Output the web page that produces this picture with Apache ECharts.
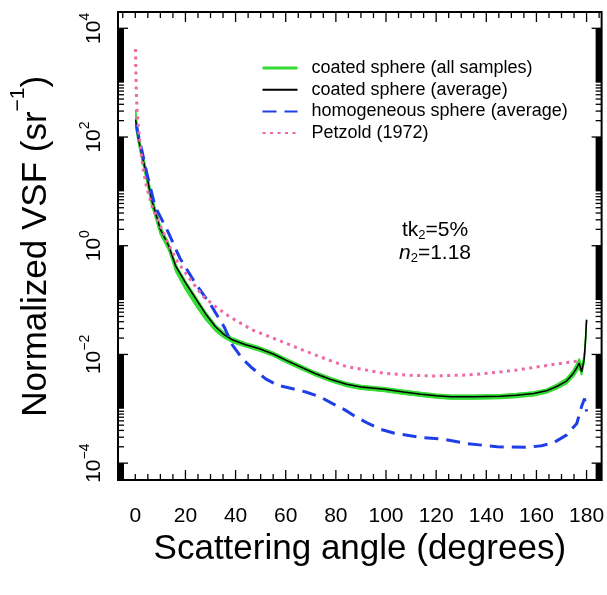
<!DOCTYPE html>
<html><head><meta charset="utf-8">
<script src="https://cdn.jsdelivr.net/npm/echarts@6/dist/echarts.min.js"></script>
<style>html,body{margin:0;padding:0;background:#fff}#c{width:607px;height:595px}</style>
</head><body><div id="c"></div>
<script>
const FONT = '"Liberation Sans", Arial, Helvetica, sans-serif';

// ---- data (scattering angle in degrees, normalized VSF in sr^-1) ----
const coatedAngles = [0.1, 0.4, 1.1, 2, 4.5, 6.5, 10, 13.3, 16.2, 20, 24.5, 28, 32, 35, 38.7, 44, 49.3, 55, 59.8, 65, 71.7, 78, 84.3, 90, 99.4, 107, 114, 120, 125.9, 135, 145.7, 152, 158.9, 164, 168.1, 172, 174.7, 176, 177.1, 178, 179, 179.5, 180];
const coatedAverage = [209, 170, 102, 63.1, 20.0, 7.08, 2.00, 1.00, 0.417, 0.209, 0.100, 0.0562, 0.0324, 0.0240, 0.0186, 0.0151, 0.0129, 0.0102, 0.00794, 0.00617, 0.00447, 0.00347, 0.00282, 0.00251, 0.00229, 0.00204, 0.00186, 0.00174, 0.00166, 0.00166, 0.00170, 0.00178, 0.00191, 0.00214, 0.00257, 0.00324, 0.00447, 0.00562, 0.00692, 0.00479, 0.00794, 0.0158, 0.0433];
const coatedSamplesHigh = [316, 224, 126, 75.9, 24.0, 8.32, 2.29, 1.10, 0.447, 0.224, 0.107, 0.0603, 0.0347, 0.0263, 0.0200, 0.0162, 0.0138, 0.0110, 0.00851, 0.00661, 0.00479, 0.00372, 0.00302, 0.00269, 0.00245, 0.00219, 0.00200, 0.00186, 0.00178, 0.00178, 0.00182, 0.00191, 0.00204, 0.00229, 0.00282, 0.00363, 0.00513, 0.00661, 0.00832, 0.00603, 0.00912, 0.0166, 0.0437];
const coatedSamplesLow = [158, 132, 83.2, 52.5, 15.8, 5.62, 1.62, 0.832, 0.331, 0.158, 0.0741, 0.0437, 0.0269, 0.0209, 0.0166, 0.0138, 0.0117, 0.00933, 0.00724, 0.00562, 0.00407, 0.00316, 0.00257, 0.00229, 0.00209, 0.00186, 0.00170, 0.00158, 0.00151, 0.00151, 0.00155, 0.00162, 0.00174, 0.00195, 0.00234, 0.00288, 0.00389, 0.00479, 0.00575, 0.00417, 0.00692, 0.0145, 0.0427];

const homogAngles = [0.4, 1, 2.4, 4.5, 7.9, 13, 17.8, 23.8, 30.1, 35.4, 38.7, 42.7, 46.6, 52, 57, 63.2, 68, 73.7, 78.5, 83.6, 88, 92.9, 98, 103.4, 114, 123.2, 132.5, 144.4, 156.3, 162, 166.8, 172.1, 176.1, 178, 179.2, 180];
const homogAverage = [170, 120, 63.1, 22.4, 5.25, 1.82, 0.589, 0.209, 0.0813, 0.0324, 0.0150, 0.00832, 0.00562, 0.00355, 0.00269, 0.00231, 0.00204, 0.00166, 0.00126, 0.000955, 0.000708, 0.000537, 0.000417, 0.000355, 0.000295, 0.000275, 0.000229, 0.000200, 0.000195, 0.000209, 0.000237, 0.000331, 0.000537, 0.00110, 0.00155, 0.000891];

const petzoldAngles = [0.1, 0.2, 0.4, 0.7, 1.2, 2, 3, 4.4, 6.5, 9.7, 13, 16.9, 21.6, 26.8, 32, 37.4, 46.6, 58.5, 71.7, 84.3, 99.4, 110, 119.3, 132.5, 142, 152.3, 165.5, 172, 177.5];
const petzoldVSF = [4170, 1780, 708, 316, 158, 70.8, 28.2, 12.6, 5.62, 2.51, 1.12, 0.501, 0.251, 0.120, 0.0759, 0.0501, 0.0283, 0.0172, 0.00980, 0.00597, 0.00450, 0.00412, 0.00402, 0.00419, 0.00457, 0.00518, 0.00640, 0.00708, 0.00769];

// ---- axis ticks / labels ----
const xLabelValues = [0, 20, 40, 60, 80, 100, 120, 140, 160, 180];
const xMajorTicks = [20, 40, 60, 80, 100, 120, 140, 160, 180];
const xMinorTicks = [-5, 0, 5, 10, 15, 25, 30, 35, 45, 50, 55, 65, 70, 75, 85, 90, 95, 105, 110, 115, 125, 130, 135, 145, 150, 155, 165, 170, 175, 185];
const yLabelValues = [1e-4, 1e-2, 1, 1e2, 1e4];
const yMinorDecades = [1e-4, 1e-2, 1, 1e2];
const yMinorMultipliers = [2, 3, 4, 5, 6, 7, 8, 9];
const yThickDecades = [[1e-5, 1e-4], [1e-3, 1e-2], [1e-1, 1], [1e1, 1e2], [1e3, 1e4]];

const X_MIN = -6.9, X_MAX = 186;
const Y_MIN = Math.pow(10, -4.31), Y_MAX = Math.pow(10, 4.3);

const GREEN = '#35dc35', BLUE = '#1f3fe6', PINK = '#ee6aa7';

function pairs(xs, ys) { return xs.map((x, i) => [x, ys[i]]); }

function bandRender(params, api) {
  const pts = [];
  for (let i = 0; i < coatedAngles.length; i++) pts.push(api.coord([coatedAngles[i], coatedSamplesHigh[i]]));
  for (let i = coatedAngles.length - 1; i >= 0; i--) pts.push(api.coord([coatedAngles[i], coatedSamplesLow[i]]));
  return { type: 'polygon', shape: { points: pts }, style: { fill: GREEN, stroke: GREEN, lineWidth: 1 } };
}

function decorRender(params, api) {
  const cs = params.coordSys;
  const L = cs.x, R = cs.x + cs.width, T = cs.y, B = cs.y + cs.height;
  const kids = [];
  const ln = (x1, y1, x2, y2) => ({ type: 'line', shape: { x1, y1, x2, y2 }, style: { stroke: '#000', lineWidth: 1.3 } });
  xMinorTicks.forEach(v => { const p = api.coord([v, 1])[0]; kids.push(ln(p, B, p, B - 6), ln(p, T, p, T + 6)); });
  xMajorTicks.forEach(v => { const p = api.coord([v, 1])[0]; kids.push(ln(p, B, p, B - 10), ln(p, T, p, T + 10)); });
  yLabelValues.forEach(v => { const p = api.coord([0, v])[1]; kids.push(ln(L, p, L + 10, p), ln(R, p, R - 10, p)); });
  yMinorDecades.forEach(d => yMinorMultipliers.forEach(m => {
    const p = api.coord([0, d * m])[1];
    if (p > T && p < B) kids.push(ln(L, p, L + 6, p), ln(R, p, R - 6, p));
  }));
  yThickDecades.forEach(([lo, hi]) => {
    let y1 = Math.max(T, api.coord([0, hi])[1]);
    let y2 = Math.min(B, api.coord([0, lo])[1]);
    kids.push({ type: 'rect', shape: { x: L, y: y1, width: 6, height: y2 - y1 }, style: { fill: '#000' } });
    kids.push({ type: 'rect', shape: { x: R - 6, y: y1, width: 6, height: y2 - y1 }, style: { fill: '#000' } });
  });
  return { type: 'group', children: kids };
}

const hiddenSymbol = { opacity: 0, color: 'transparent', borderWidth: 0 };

const chart = echarts.init(document.getElementById('c'), null, { renderer: 'canvas' });
chart.setOption({
  animation: false,
  backgroundColor: '#fff',
  grid: { left: 115, right: 5, top: 12, bottom: 115, show: true, borderColor: '#000', borderWidth: 2, backgroundColor: 'transparent' },
  xAxis: {
    type: 'value', min: X_MIN, max: X_MAX,
    axisLine: { show: false }, axisTick: { show: false }, splitLine: { show: false },
    axisLabel: { customValues: xLabelValues, fontSize: 21, color: '#000', fontFamily: FONT, margin: 26 },
    name: 'Scattering angle (degrees)', nameLocation: 'middle', nameGap: 50,
    nameTextStyle: { fontSize: 35, color: '#000', fontFamily: FONT, lineHeight: 35 }
  },
  yAxis: {
    type: 'log', logBase: 10, min: Y_MIN, max: Y_MAX,
    axisLine: { show: false }, axisTick: { show: false }, splitLine: { show: false },
    axisLabel: {
      customValues: yLabelValues, rotate: 90, margin: 13,
      formatter: function (v) {
        const e = Math.round(Math.log10(v));
        return '{b|10}{s|' + (e < 0 ? '\u2212' + (-e) : e) + '}';
      },
      rich: {
        b: { fontSize: 21, lineHeight: 27, verticalAlign: 'bottom', color: '#000', fontFamily: FONT },
        s: { fontSize: 14, lineHeight: 14, verticalAlign: 'top', color: '#000', fontFamily: FONT }
      }
    },
    name: '{t|Normalized VSF (sr}{s|\u22121}{t|)}{e| }', nameLocation: 'middle', nameRotate: 90, nameGap: 64,
    nameTextStyle: {
      rich: {
        t: { fontSize: 35, lineHeight: 38, verticalAlign: 'bottom', color: '#000', fontFamily: FONT },
        s: { fontSize: 21, lineHeight: 21, verticalAlign: 'top', color: '#000', fontFamily: FONT },
        e: { fontSize: 2, lineHeight: 46, color: '#000', fontFamily: FONT }
      }
    }
  },
  legend: {
    orient: 'vertical', left: 256, top: 54, itemWidth: 35, itemHeight: 18, itemGap: 3.7,
    selectedMode: false,
    itemStyle: hiddenSymbol,
    textStyle: { fontSize: 18, color: '#000', fontFamily: FONT, lineHeight: 18, padding: [0, 0, 0, 9] },
    data: [
      { name: 'coated sphere (all samples)', lineStyle: { width: 3 }, itemStyle: hiddenSymbol },
      { name: 'coated sphere (average)', lineStyle: { width: 2 }, itemStyle: hiddenSymbol },
      { name: 'homogeneous sphere (average)', itemStyle: hiddenSymbol },
      { name: 'Petzold (1972)', itemStyle: hiddenSymbol }
    ]
  },
  graphic: [
    { type: 'text', x: 435, y: 230, z: 20,
      style: { text: '{n|tk}{d|2}{n|=5%}', align: 'center', verticalAlign: 'middle', textAlign: 'center', textVerticalAlign: 'middle', fill: '#000',
        rich: { n: { fontSize: 21, lineHeight: 24, fontFamily: FONT, fill: '#000' }, d: { fontSize: 13, lineHeight: 13, verticalAlign: 'bottom', fontFamily: FONT, fill: '#000' } } } },
    { type: 'text', x: 435, y: 253, z: 20,
      style: { text: '{i|n}{d|2}{n|=1.18}', align: 'center', verticalAlign: 'middle', textAlign: 'center', textVerticalAlign: 'middle', fill: '#000',
        rich: { n: { fontSize: 21, lineHeight: 24, fontFamily: FONT, fill: '#000' }, i: { fontSize: 21, lineHeight: 24, fontStyle: 'italic', fontFamily: FONT, fill: '#000' }, d: { fontSize: 13, lineHeight: 13, verticalAlign: 'bottom', fontFamily: FONT, fill: '#000' } } } }
  ],
  series: [
    { type: 'line', name: 'coated sphere (all samples)', data: pairs(coatedAngles, coatedSamplesHigh), symbol: 'none', z: 2,
      lineStyle: { color: GREEN, width: 1.5 }, itemStyle: { color: GREEN } },
    { type: 'line', name: 'coated sphere (all samples)', data: pairs(coatedAngles, coatedSamplesLow), symbol: 'none', z: 2,
      lineStyle: { color: GREEN, width: 1.5 }, itemStyle: { color: GREEN } },
    { type: 'custom', name: 'band', coordinateSystem: 'cartesian2d', data: [[0, 1]], renderItem: bandRender, silent: true, z: 1 },
    { type: 'line', name: 'coated sphere (average)', data: pairs(coatedAngles, coatedAverage), symbol: 'none', z: 4,
      lineStyle: { color: '#000', width: 1.5 }, itemStyle: { color: '#000' } },
    { type: 'line', name: 'homogeneous sphere (average)', data: pairs(homogAngles, homogAverage), symbol: 'none', z: 5,
      lineStyle: { color: BLUE, width: 3, type: [14, 8] }, itemStyle: { color: BLUE } },
    { type: 'line', name: 'Petzold (1972)', data: pairs(petzoldAngles, petzoldVSF), symbol: 'none', z: 6,
      lineStyle: { color: PINK, width: 3, type: [3, 4.5] }, itemStyle: { color: PINK } },
    { type: 'custom', name: 'frame', coordinateSystem: 'cartesian2d', data: [[0, 1]], renderItem: decorRender, silent: true, z: 10 }
  ]
});
</script>
</body></html>
